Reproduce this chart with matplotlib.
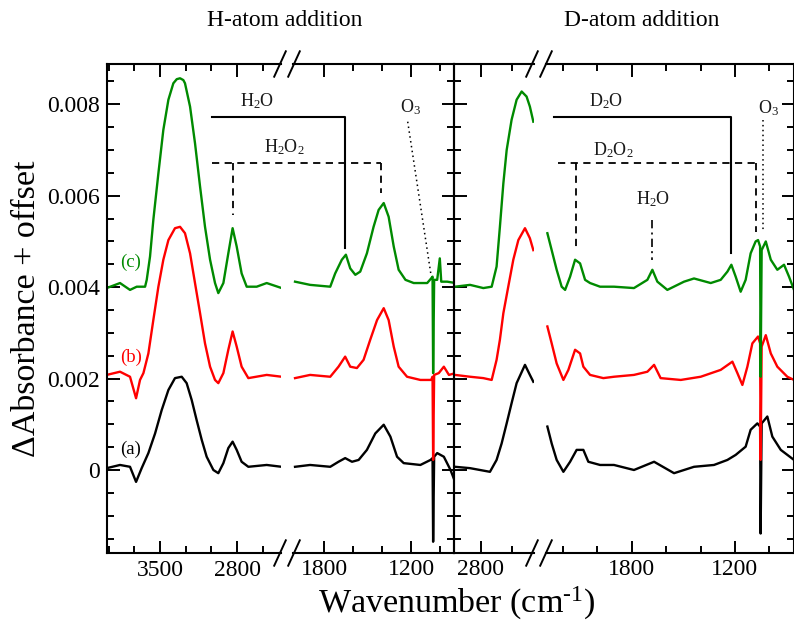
"""IR difference spectra after H- and D-atom addition, on broken wavenumber axes."""

import matplotlib

matplotlib.use("Agg")

import matplotlib.pyplot as plt
from matplotlib.ticker import FixedLocator, FixedFormatter

# ---- data (absorbance in units of 1e-3, offset already included) ----
# H-atom addition, high-wavenumber segment
h1_wn_c = [3985, 3864, 3773, 3712, 3636, 3621, 3591, 3561, 3515, 3470, 3424, 3379, 3348, 3318, 3288,
           3273, 3227, 3182, 3136, 3091, 3045, 3000, 2970, 2924, 2879, 2840, 2803, 2758, 2712, 2621,
           2530, 2394]
h1_c = [3.98, 4.09, 3.94, 4.01, 4.01, 4.16, 4.67, 5.47, 6.49, 7.44, 8.10, 8.46, 8.55, 8.57, 8.53,
        8.46, 7.95, 7.15, 6.20, 5.32, 4.60, 4.09, 3.87, 4.09, 4.74, 5.29, 4.89, 4.30, 4.01, 4.01,
        4.09, 3.98]
h1_wn_b = [3985, 3864, 3773, 3718, 3682, 3651, 3606, 3561, 3515, 3470, 3424, 3364, 3318, 3273, 3227,
           3182, 3136, 3091, 3045, 3000, 2970, 2924, 2879, 2840, 2803, 2758, 2697, 2530, 2394]
h1_b = [2.08, 2.15, 2.04, 1.57, 1.97, 2.12, 2.55, 3.28, 4.01, 4.60, 5.03, 5.29, 5.32, 5.18, 4.74,
        4.09, 3.43, 2.77, 2.26, 1.97, 1.90, 2.12, 2.63, 3.03, 2.70, 2.26, 2.01, 2.08, 2.04]
h1_wn_a = [3985, 3864, 3773, 3718, 3667, 3606, 3545, 3485, 3424, 3364, 3303, 3258, 3212, 3167, 3121,
           3076, 3015, 2970, 2924, 2879, 2840, 2803, 2758, 2697, 2530, 2394]
h1_a = [0.04, 0.11, 0.07, -0.26, 0.04, 0.37, 0.80, 1.31, 1.75, 2.01, 2.04, 1.90, 1.53, 1.09, 0.66,
        0.29, 0.00, -0.07, 0.15, 0.48, 0.62, 0.44, 0.18, 0.07, 0.11, 0.07]

# H-atom addition, low-wavenumber segment
h2_wn_c = [2001, 1897, 1758, 1724, 1678, 1650, 1620, 1585, 1551, 1505, 1459, 1424, 1389, 1355, 1320,
           1286, 1239, 1182, 1089, 1062, 1052, 1048, 1041, 1020, 1002, 992, 951, 893]
h2_c = [4.12, 4.05, 4.01, 4.30, 4.60, 4.71, 4.41, 4.27, 4.34, 4.74, 5.32, 5.69, 5.84, 5.54, 4.89,
        4.38, 4.16, 4.09, 4.09, 4.19, 4.23, 2.12, 4.16, 4.16, 4.63, 4.12, 4.12, 4.09]
h2_wn_b = [2001, 1897, 1758, 1701, 1655, 1620, 1574, 1528, 1482, 1435, 1389, 1355, 1320, 1286, 1228,
           1136, 1062, 1052, 1048, 1041, 1009, 974, 939, 893]
h2_b = [2.01, 2.08, 2.04, 2.26, 2.48, 2.26, 2.23, 2.41, 2.85, 3.28, 3.54, 3.28, 2.70, 2.26, 2.04,
        1.97, 1.97, 2.04, 0.22, 2.08, 2.12, 2.26, 2.08, 2.12]
h2_wn_a = [2001, 1897, 1758, 1701, 1655, 1608, 1562, 1505, 1447, 1389, 1343, 1297, 1251, 1136, 1066,
           1052, 1048, 1041, 1020, 974, 928, 893]
h2_a = [0.07, 0.11, 0.07, 0.18, 0.26, 0.18, 0.22, 0.44, 0.80, 0.99, 0.73, 0.29, 0.15, 0.11, 0.22,
        0.26, -1.57, 0.29, 0.37, 0.29, 0.00, -0.29]

# D-atom addition, high-wavenumber segment
d1_wn_c = [2993, 2880, 2780, 2717, 2680, 2655, 2629, 2604, 2567, 2529, 2491, 2454, 2429, 2403]
d1_c = [4.01, 4.05, 3.98, 4.01, 4.45, 5.32, 6.27, 7.00, 7.66, 8.10, 8.28, 8.17, 7.95, 7.62]
d1_wn_b = [2993, 2880, 2780, 2717, 2680, 2655, 2629, 2592, 2554, 2516, 2466, 2429, 2403]
d1_b = [2.08, 2.04, 2.01, 1.97, 2.41, 2.85, 3.43, 4.01, 4.60, 5.03, 5.29, 5.07, 4.81]
d1_wn_a = [2993, 2880, 2730, 2680, 2642, 2604, 2567, 2529, 2466, 2429, 2403]
d1_a = [0.07, 0.04, -0.04, 0.22, 0.58, 1.02, 1.46, 1.90, 2.30, 2.08, 1.93]

# D-atom addition, low-wavenumber segment
d2_wn_c = [2290, 2265, 2236, 2207, 2187, 2158, 2129, 2100, 2071, 2042, 1984,
           1903, 1787, 1709, 1680, 1651, 1593, 1496, 1438, 1341, 1283, 1244, 1221, 1196, 1167,
           1138, 1109, 1080, 1066, 1054, 1051, 1045, 1021, 992, 954, 915, 886, 857]
d2_c = [5.18, 4.81, 4.38, 4.01, 3.94, 4.23, 4.60, 4.52, 4.16, 4.09, 4.01,
        4.01, 3.98, 4.16, 4.38, 4.12, 3.94, 4.12, 4.19, 4.09, 4.16, 4.34, 4.49, 4.23, 3.90,
        4.16, 4.74, 5.00, 5.03, 4.89, 2.04, 4.81, 5.00, 4.60, 4.38, 4.49, 4.23, 3.94]
d2_wn_b = [2290, 2265, 2236, 2197, 2168, 2129, 2100, 2081, 2042, 1965,
           1903, 1787, 1709, 1670, 1632, 1515, 1399, 1283, 1215, 1186, 1157, 1128, 1099, 1066,
           1054, 1051, 1045, 1021, 992, 954, 896, 857]
d2_b = [3.14, 2.77, 2.33, 1.97, 2.19, 2.63, 2.55, 2.26, 2.08, 2.01,
        2.04, 2.08, 2.15, 2.30, 2.01, 1.97, 2.04, 2.19, 2.37, 2.12, 1.86, 2.26, 2.77, 2.92,
        2.77, 0.22, 2.70, 2.95, 2.55, 2.26, 2.04, 1.97]
d2_wn_a = [2290, 2265, 2236, 2197, 2158, 2120, 2081, 2052, 1984,
           1903, 1787, 1670, 1554, 1438, 1322, 1244, 1196, 1138, 1109, 1070, 1054, 1051, 1045,
           1012, 983, 934, 857]
d2_a = [0.95, 0.58, 0.22, -0.04, 0.18, 0.44, 0.44, 0.18, 0.11,
        0.11, 0.00, 0.18, -0.07, 0.07, 0.11, 0.22, 0.33, 0.51, 0.88, 1.02, 0.95, -1.39, 1.02,
        1.17, 0.73, 0.44, 0.22]

SERIES_COLORS = {"a": "black", "b": "#ff0000", "c": "#008a00"}
YMIN, YMAX = -0.001816, 0.008882
W, H = 794, 629


def px_box(x0, x1, y0=64, y1=553):
    """Axes rectangle from pixel edges."""
    return [x0 / W, 1 - y1 / H, (x1 - x0) / W, (y1 - y0) / H]


def style_segment(ax, xlim, major, minor, side):
    ax.set_xlim(*xlim)
    ax.set_ylim(YMIN, YMAX)
    ax.xaxis.set_major_locator(FixedLocator(major))
    ax.xaxis.set_major_formatter(FixedFormatter([str(v) for v in major]))
    ax.xaxis.set_minor_locator(FixedLocator(minor))
    ax.yaxis.set_major_locator(FixedLocator([0, 0.002, 0.004, 0.006, 0.008]))
    ax.yaxis.set_major_formatter(FixedFormatter(["0", "0.002", "0.004", "0.006", "0.008"]))
    ax.yaxis.set_minor_locator(FixedLocator([i * 0.0005 for i in range(-3, 18)]))
    ax.tick_params(which="both", direction="in", top=True, bottom=True,
                   left=(side == "left"), right=(side == "right"),
                   labelleft=False, width=1.4, labelsize=17, pad=4)
    ax.tick_params(which="major", length=9)
    ax.tick_params(which="minor", length=4.8)
    for sp in ax.spines.values():
        sp.set_linewidth(1.5)
    ax.spines["right" if side == "left" else "left"].set_visible(False)
    ax.patch.set_alpha(0)


def draw_segment(ax, curves):
    for key in ["a", "b", "c"]:
        wn, vals = curves[key]
        ax.plot(wn, [v * 1e-3 for v in vals], color=SERIES_COLORS[key], lw=1.7,
                solid_joinstyle="round")


plt.rcParams.update({
    "font.family": "Liberation Serif",
    "mathtext.fontset": "custom",
    "mathtext.rm": "Liberation Serif",
    "mathtext.it": "Liberation Serif:italic",
})

fig = plt.figure(figsize=(W / 100, H / 100), dpi=100, facecolor="white")

ax_h1 = fig.add_axes(px_box(106.7, 281))
ax_h2 = fig.add_axes(px_box(293, 454))
ax_d1 = fig.add_axes(px_box(454, 534))
ax_d2 = fig.add_axes(px_box(546, 793.5))

third = 700 / 3
style_segment(ax_h1, (3985, 2400), [3500, 2800],
              [3500 + 2 * third, 3500 + third, 3500 - third, 3500 - 2 * third, 2800 - third], "left")
style_segment(ax_h2, (2015, 904), [1800, 1200], [1600, 1400, 1000], "right")
style_segment(ax_d1, (3001, 2398), [2800], [2800 - third], "left")
style_segment(ax_d2, (2298, 860), [1800, 1200], [2200, 2000, 1600, 1400, 1000], "right")
ax_h1.tick_params(labelleft=True, pad=5)

draw_segment(ax_h1, {"a": (h1_wn_a, h1_a), "b": (h1_wn_b, h1_b), "c": (h1_wn_c, h1_c)})
draw_segment(ax_h2, {"a": (h2_wn_a, h2_a), "b": (h2_wn_b, h2_b), "c": (h2_wn_c, h2_c)})
draw_segment(ax_d1, {"a": (d1_wn_a, d1_a), "b": (d1_wn_b, d1_b), "c": (d1_wn_c, d1_c)})
draw_segment(ax_d2, {"a": (d2_wn_a, d2_a), "b": (d2_wn_b, d2_b), "c": (d2_wn_c, d2_c)})

# overlay in pixel coordinates for the break marks and assignment brackets
ov = fig.add_axes([0, 0, 1, 1], zorder=10)
ov.set_xlim(0, W)
ov.set_ylim(H, 0)
ov.axis("off")

for xc in (280, 294, 532, 546):
    for yc in (64, 553):
        ov.plot([xc - 5.8, xc + 5.8], [yc + 12.7, yc - 12.7], color="black", lw=1.4)

ann = dict(color="black")
# H-atom panel
ov.plot([211.7, 345, 345], [116.7, 116.7, 248], lw=1.5, **ann)
ov.plot([211.7, 381], [162.7, 162.7], lw=1.3, ls=(0, (4, 3)), **ann)
ov.plot([232.7, 232.7], [162.7, 215], lw=1.3, ls=(0, (4, 3)), **ann)
ov.plot([381, 381], [162.7, 193], lw=1.3, ls=(0, (4, 3)), **ann)
ov.plot([407.7, 430.7], [121.7, 273], lw=1.1, ls=(0, (1, 2.2)), **ann)
# D-atom panel
ov.plot([554, 730.7, 730.7], [116.7, 116.7, 252.7], lw=1.5, **ann)
ov.plot([558.3, 755.7], [163.3, 163.3], lw=1.3, ls=(0, (4, 3)), **ann)
ov.plot([576, 576], [163.3, 246.7], lw=1.3, ls=(0, (4, 3)), **ann)
ov.plot([755.7, 755.7], [163.3, 231.7], lw=1.3, ls=(0, (4, 3)), **ann)
ov.plot([652.3, 652.3], [220, 260], lw=1.2, ls=(0, (5, 2.5, 1.2, 2.5)), **ann)
ov.plot([763.3, 763.3], [120, 231.7], lw=1.1, ls=(0, (1, 2.2)), **ann)

lab = dict(fontsize=13, color="#1a1a1a", va="baseline")
ov.text(256.7, 106, r"H$_2$O", ha="center", **lab)
ov.text(284, 152, r"H$_2$O$_2$", ha="center", **lab)
ov.text(400, 112, r"O$_3$", ha="left", **lab)
ov.text(606, 106, r"D$_2$O", ha="center", **lab)
ov.text(613, 155, r"D$_2$O$_2$", ha="center", **lab)
ov.text(652.8, 204, r"H$_2$O", ha="center", **lab)
ov.text(758, 113, r"O$_3$", ha="left", **lab)

for key, yc in (("c", 262.5), ("b", 357.5), ("a", 449)):
    ov.text(130.8, yc, f"({key})", ha="center", va="center", fontsize=13.5,
            color=SERIES_COLORS[key])

ov.text(285, 21, "H-atom addition", ha="center", va="center", fontsize=17)
ov.text(642, 21, "D-atom addition", ha="center", va="center", fontsize=17)
ov.text(457, 603, r"Wavenumber (cm$^{\text{-}1}$)", ha="center", va="center", fontsize=24.5)
ov.text(27, 309, "\u0394Absorbance + offset", ha="center", va="center",
        rotation=90, fontsize=24.5)

fig.savefig("out.png", dpi=100, facecolor="white")
